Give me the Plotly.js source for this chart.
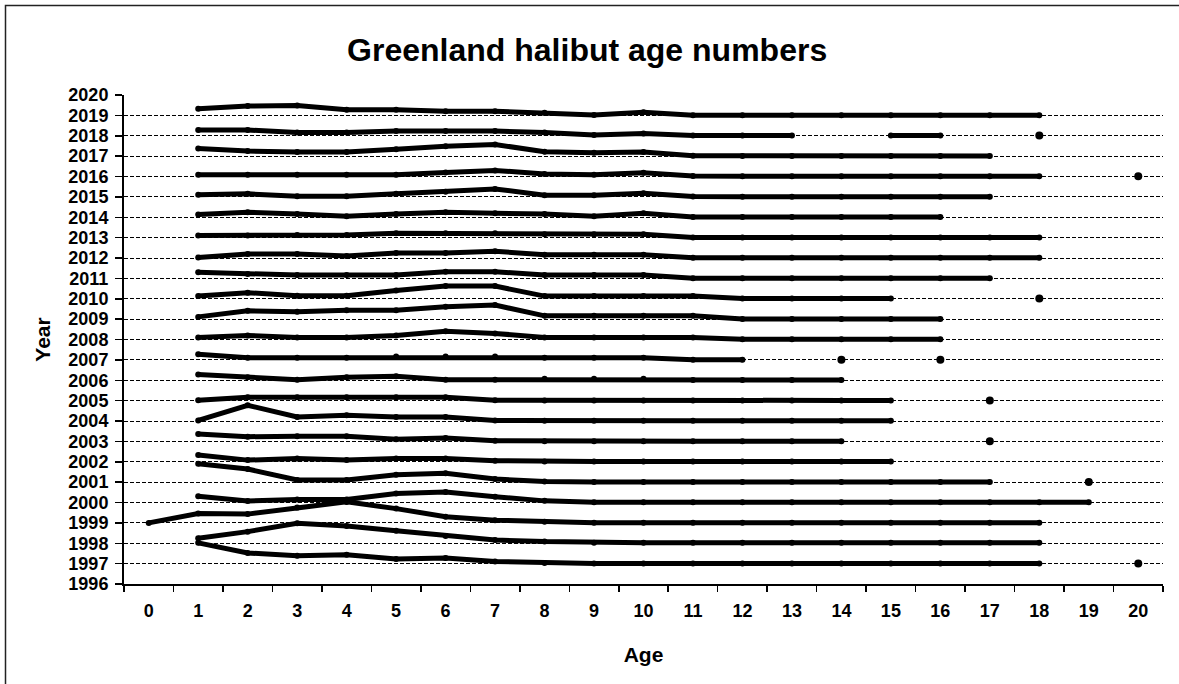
<!DOCTYPE html>
<html>
<head>
<meta charset="utf-8">
<script src="https://cdn.plot.ly/plotly-3.0.1.min.js"></script>
<style>html,body{margin:0;padding:0;background:#fff;}#chart{width:1179px;height:684px;}</style>
</head>
<body>
<div id="chart"></div>
<script>
var n = null;
// Ages 0..20
var ages = [0,1,2,3,4,5,6,7,8,9,10,11,12,13,14,15,16,17,18,19,20];
var ageLabels = ["0","1","2","3","4","5","6","7","8","9","10","11","12","13","14","15","16","17","18","19","20"];
var yearTicks = [1996,1997,1998,1999,2000,2001,2002,2003,2004,2005,2006,2007,2008,2009,2010,2011,2012,2013,2014,2015,2016,2017,2018,2019,2020];

// Scaled age numbers (offset above each year's baseline), one array per survey year
var a2019 = [n,0.33,0.46,0.49,0.28,0.28,0.20,0.20,0.13,0.02,0.15,0.01,0.01,0.01,0.01,0.01,0.01,0.01,0.01,n,n];
var a2018 = [n,0.28,0.28,0.16,0.16,0.23,0.23,0.23,0.16,0.04,0.11,0.01,0.01,0.01,n,0.01,0.01,n,0.01,n,n];
var a2017 = [n,0.38,0.25,0.20,0.20,0.34,0.49,0.57,0.22,0.16,0.20,0.02,0.01,0.01,0.01,0.01,0.01,0.01,n,n,n];
var a2016 = [n,0.08,0.08,0.08,0.08,0.08,0.20,0.30,0.12,0.08,0.18,0.02,0.01,0.01,0.01,0.01,0.01,0.01,0.01,n,0.01];
var a2015 = [n,0.11,0.15,0.03,0.03,0.15,0.25,0.39,0.08,0.08,0.18,0.02,0.01,0.01,0.01,0.01,0.01,0.01,n,n,n];
var a2014 = [n,0.13,0.25,0.16,0.05,0.16,0.25,0.20,0.16,0.05,0.20,0.01,0.01,0.01,0.01,0.01,0.01,n,n,n,n];
var a2013 = [n,0.10,0.10,0.13,0.13,0.21,0.21,0.21,0.16,0.16,0.16,0.01,0.01,0.01,0.01,0.01,0.01,0.01,0.01,n,n];
var a2012 = [n,0.02,0.20,0.20,0.10,0.25,0.25,0.33,0.16,0.16,0.16,0.01,0.01,0.01,0.01,0.01,0.01,0.01,0.01,n,n];
var a2011 = [n,0.30,0.21,0.16,0.16,0.16,0.33,0.33,0.16,0.16,0.16,0.01,0.01,0.01,0.01,0.01,0.01,0.01,n,n,n];
var a2010 = [n,0.13,0.30,0.15,0.15,0.41,0.62,0.62,0.13,0.13,0.13,0.13,0.01,0.01,0.01,0.01,n,n,0.01,n,n];
var a2009 = [n,0.11,0.41,0.36,0.44,0.44,0.61,0.69,0.16,0.16,0.16,0.16,0.01,0.01,0.01,0.01,0.01,n,n,n,n];
var a2008 = [n,0.10,0.20,0.10,0.10,0.20,0.41,0.30,0.10,0.10,0.10,0.10,0.01,0.01,0.01,0.01,0.01,n,n,n,n];
var a2007 = [n,0.28,0.11,0.11,0.11,0.16,0.16,0.16,0.11,0.11,0.11,0.01,0.01,n,0.01,n,0.01,n,n,n,n];
var a2006 = [n,0.28,0.15,0.03,0.15,0.20,0.03,0.03,0.07,0.07,0.07,0.01,0.01,0.01,0.01,n,n,n,n,n,n];
var a2005 = [n,0.02,0.16,0.16,0.16,0.16,0.16,0.02,0.01,0.01,0.01,0.01,0.01,0.01,0.01,0.01,n,0.01,n,n,n];
var a2004 = [n,0.03,0.77,0.20,0.28,0.20,0.20,0.03,0.01,0.01,0.01,0.01,0.01,0.01,0.01,0.01,n,n,n,n,n];
var a2003 = [n,0.36,0.23,0.25,0.25,0.11,0.16,0.03,0.01,0.01,0.01,0.01,0.01,0.01,0.01,n,n,0.01,n,n,n];
var a2002 = [n,0.33,0.08,0.16,0.08,0.16,0.16,0.05,0.01,0.01,0.01,0.01,0.01,0.01,0.01,0.01,n,n,n,n,n];
var a2001 = [n,0.90,0.64,0.11,0.11,0.36,0.44,0.15,0.03,0.01,0.01,0.01,0.01,0.01,0.01,0.01,0.01,0.01,n,0.01,n];
var a2000 = [n,0.31,0.07,0.15,0.15,0.44,0.52,0.28,0.08,0.01,0.01,0.01,0.01,0.01,0.01,0.01,0.01,0.01,0.01,0.01,n];
var a1999 = [0.00,0.46,0.43,0.75,1.03,0.70,0.30,0.13,0.05,0.01,0.01,0.01,0.01,0.01,0.01,0.01,0.01,0.01,0.01,n,n];
var a1998 = [n,0.25,0.57,0.98,0.85,0.61,0.36,0.16,0.08,0.03,0.03,0.03,0.03,0.03,0.03,0.03,0.03,0.03,0.03,n,n];
var a1997 = [n,1.02,0.52,0.39,0.44,0.23,0.28,0.11,0.03,0.01,0.01,0.01,0.01,0.01,0.01,0.01,0.01,0.01,0.01,n,0.01];

var years = [2019,2018,2017,2016,2015,2014,2013,2012,2011,2010,2009,2008,2007,2006,2005,2004,2003,2002,2001,2000,1999,1998,1997];
var series = [a2019,a2018,a2017,a2016,a2015,a2014,a2013,a2012,a2011,a2010,a2009,a2008,a2007,a2006,a2005,a2004,a2003,a2002,a2001,a2000,a1999,a1998,a1997];

var FONT = "Liberation Sans, Arial, sans-serif";
var W = 1179, H = 684;
var M = {l:124, r:16, t:95, b:100};
var PW = W - M.l - M.r, PH = H - M.t - M.b;

var traces = years.map(function(yr, i){
  var vals = series[i];
  var ys = vals.map(function(v){ return v === null ? null : yr + v; });
  var sizes = vals.map(function(v, k){
    if (v === null) return 0;
    var prev = k > 0 ? vals[k-1] : null, next = k < vals.length-1 ? vals[k+1] : null;
    return (prev === null && next === null) ? 8 : 6;
  });
  return {
    type:'scatter', mode:'lines+markers', x: ages, y: ys,
    connectgaps:false, showlegend:false, hoverinfo:'skip',
    line:{color:'#000', width:5},
    marker:{color:'#000', size:sizes, symbol:'circle', opacity:1, line:{width:0, color:'#000'}}
  };
});

var minorVals = [];
for (var k = 0; k <= ages.length; k++) minorVals.push(k - 0.5);

var layout = {
  width:W, height:H, margin:M,
  paper_bgcolor:'#fff', plot_bgcolor:'#fff',
  title:{text:'Greenland halibut age numbers', font:{family:FONT, size:32, color:'#000', weight:'bold'},
         xref:'container', x:0.498, yref:'container', y:1-50/H, xanchor:'center', yanchor:'middle'},
  xaxis:{
    range:[-0.5,20.5], tickmode:'array', tickvals:ages, ticktext:ageLabels,
    ticks:'outside', ticklen:9, tickcolor:'rgba(0,0,0,0)',
    minor:{tickmode:'array', tickvals:minorVals, ticks:'outside', ticklen:6, tickcolor:'#000', tickwidth:1.5, showgrid:false},
    tickfont:{family:FONT, size:18, color:'#000', weight:'bold'},
    showgrid:false, zeroline:false, showline:true, linecolor:'#000', linewidth:2,
    title:{text:'Age', font:{family:FONT, size:21, color:'#000', weight:'bold'}, standoff:28},
    automargin:false, fixedrange:true
  },
  yaxis:{
    range:[1996,2020], tickmode:'array', tickvals:yearTicks,
    ticks:'outside', ticklen:7, tickcolor:'#000', tickwidth:1.5,
    ticklabelstandoff:3,
    tickfont:{family:FONT, size:18, color:'#000', weight:'bold'},
    showgrid:true, gridcolor:'#000', gridwidth:1, griddash:'4px,2px',
    zeroline:false, showline:true, linecolor:'#000', linewidth:2,
    title:{text:'Year', font:{family:FONT, size:21, color:'#000', weight:'bold'}, standoff:12},
    automargin:false, fixedrange:true
  },
  shapes:[{
    type:'rect', xref:'paper', yref:'paper', layer:'below',
    x0:(5.5 - M.l)/PW, x1:(W + 20 - M.l)/PW,
    y0:(H - M.b - (H + 20))/PH, y1:(H - M.b - 5.5)/PH,
    line:{color:'#222', width:1.5}, fillcolor:'rgba(0,0,0,0)'
  }]
};

Plotly.newPlot('chart', traces, layout, {staticPlot:true, displayModeBar:false});
</script>
</body>
</html>
